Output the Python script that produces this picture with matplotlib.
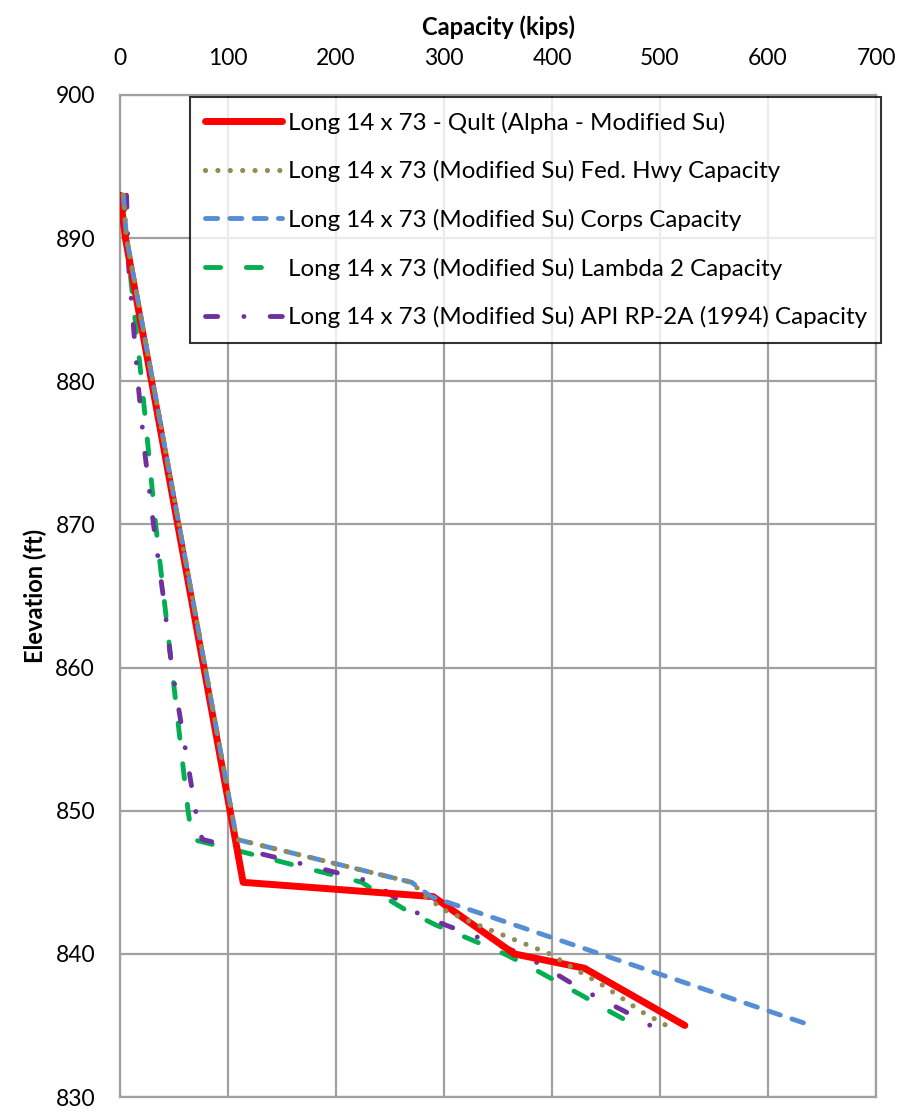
import matplotlib
matplotlib.use('Agg')
import matplotlib.pyplot as plt

plt.rcParams['font.family'] = ['Lato', 'DejaVu Sans']

# elevation (ft) / capacity (kips)
qult_elev = [893, 890, 845, 844, 840, 839, 835]
qult_cap = [0, 5, 114, 290, 365, 430, 523]

fhwa_elev = [893, 890, 848, 845, 844, 843, 842, 841, 840, 839, 838, 837, 836, 835]
fhwa_cap = [3, 6, 108, 270, 283, 302, 332, 365, 398, 420, 443, 463, 482, 506]

corps_elev = [893, 890, 848, 845, 844, 835]
corps_cap = [3, 6, 108, 270, 288, 640]

lambda_elev = [893, 890, 880, 870, 860, 850, 848, 847, 846, 845, 844, 843,
               842, 841, 840, 839, 838, 837, 836, 835]
lambda_cap = [3, 6, 20, 33, 48, 63, 67, 120, 172, 224, 244, 266,
              293, 325, 356, 382, 406, 430, 453, 477]

api_elev = [893, 888, 880, 875, 870, 865, 860, 855, 850, 848, 847, 846, 845,
            844, 843, 842, 841, 840, 839, 838, 837, 836, 835]
api_cap = [6, 8, 16.5, 23, 31, 40, 48, 59, 70, 76, 130, 184, 235,
           253, 271, 302, 337, 372, 395, 417, 441, 467, 491]

labels = ['Long 14 x 73 - Qult (Alpha - Modified Su)',
          'Long 14 x 73 (Modified Su) Fed. Hwy Capacity',
          'Long 14 x 73 (Modified Su) Corps Capacity',
          'Long 14 x 73 (Modified Su) Lambda 2 Capacity',
          'Long 14 x 73 (Modified Su) API RP-2A (1994) Capacity']

x_ticks = [0, 100, 200, 300, 400, 500, 600, 700]
y_ticks = [830, 840, 850, 860, 870, 880, 890, 900]

fig = plt.figure(figsize=(8.97, 11.15), dpi=100)
ax = fig.add_axes([0.1338, 0.0161, 0.8428, 0.8987])

ax.plot(qult_cap, qult_elev, color='#FF0000', lw=5, solid_capstyle='round',
        solid_joinstyle='round', label=labels[0], zorder=3)
ax.plot(fhwa_cap, fhwa_elev, color='#948A54', lw=3.7, dashes=(0.01, 2.4),
        dash_capstyle='round', label=labels[1], zorder=5)
ax.plot(corps_cap, corps_elev, color='#558ED5', lw=3.5, dashes=(2.5, 2.5),
        dash_capstyle='round', label=labels[2], zorder=4)
ax.plot(lambda_cap, lambda_elev, color='#00B050', lw=3.5, dashes=(3.1, 5.3),
        dash_capstyle='round', label=labels[3], zorder=2)
ax.plot(api_cap, api_elev, color='#7030A0', lw=3.5, dashes=(2.5, 5.4, 0.01, 5.4),
        dash_capstyle='round', label=labels[4], zorder=2)

ax.set_xlim(0, 700)
ax.set_ylim(830, 900)
ax.set_xticks(x_ticks)
ax.set_yticks(y_ticks)
ax.xaxis.tick_top()
ax.xaxis.set_label_position('top')
ax.tick_params(length=0, labelsize=16.5, colors='black')
ax.tick_params(axis='x', pad=18.5)
ax.tick_params(axis='y', pad=18)
ax.grid(True, color='#A0A0A0', lw=1.6)
ax.set_axisbelow(True)
for s in ax.spines.values():
    s.set_color('#A0A0A0')
    s.set_linewidth(1.6)

ax.set_xlabel('Capacity (kips)', fontsize=17, fontweight='bold', labelpad=9.5)
ax.set_ylabel('Elevation (ft)', fontsize=17, fontweight='bold', labelpad=6)

leg = ax.legend(loc='upper left', bbox_to_anchor=(190 / 897, 1 - 97 / 1115),
                bbox_transform=fig.transFigure, fontsize=17.4, frameon=True,
                fancybox=False, edgecolor='black', handlelength=3.2,
                handletextpad=0.25, labelspacing=1.1, borderpad=0.6,
                borderaxespad=0)
leg.get_frame().set_linewidth(1.5)
leg.set_zorder(10)

fig.savefig('out.png', dpi=100, facecolor='white')
